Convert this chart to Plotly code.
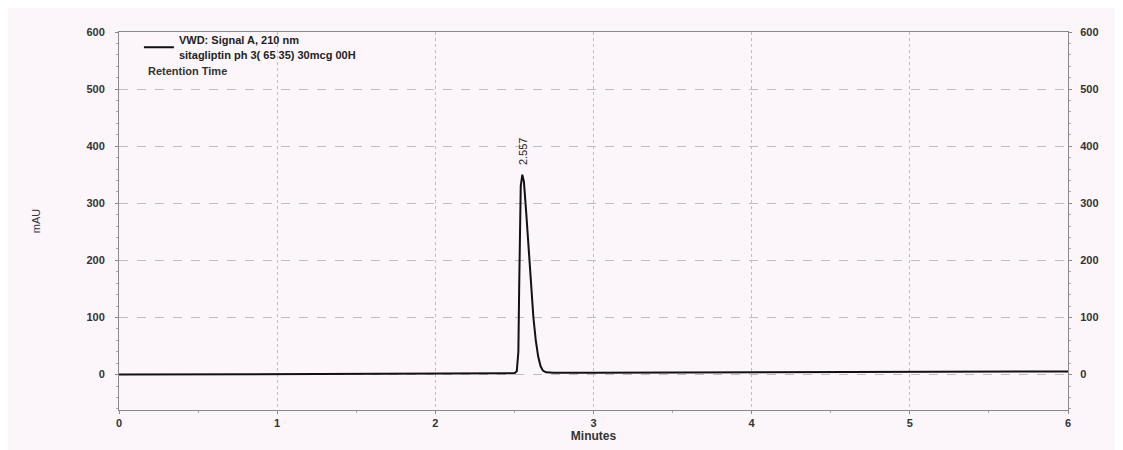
import plotly.graph_objects as go

# Retention time (minutes) and detector signal (mAU)
time_min = [0.0, 0.5, 1.0, 1.5, 2.0, 2.3, 2.45, 2.50, 2.515, 2.525, 2.53, 2.535, 2.54,
            2.55, 2.56, 2.575, 2.59, 2.605, 2.62, 2.635, 2.65, 2.665, 2.68, 2.70,
            2.75, 3.0, 3.5, 4.0, 4.5, 5.0, 5.5, 6.0]
signal_mau = [0.0, 0.4, 0.8, 1.2, 1.6, 1.9, 2.1, 2.3, 6, 40, 150, 260, 330,
              350, 338, 282, 216, 150, 100, 60, 32, 15, 7, 4,
              3.2, 3.3, 3.6, 4.0, 4.4, 4.8, 5.2, 5.6]

peak_time_label = "2.557"
peak_time = 2.55
peak_height = 350

x_ticks = [0, 1, 2, 3, 4, 5, 6]
y_ticks = [0, 100, 200, 300, 400, 500, 600]

series_lines = ["VWD: Signal A, 210 nm", "sitagliptin ph 3( 65 35) 30mcg 00H"]

FONT = "Liberation Sans, Arial, sans-serif"
GRID = "#c2bcc2"
BG = "#fcf6fb"

fig = go.Figure()
fig.add_trace(go.Scatter(x=time_min, y=signal_mau, mode="lines",
                         name="<br>".join("<b>" + s + "</b>" for s in series_lines),
                         line=dict(color="#111111", width=2), showlegend=True))
# invisible helper trace on the right-hand axis
fig.add_trace(go.Scatter(x=[time_min[0]], y=[signal_mau[0]], yaxis="y2", mode="lines",
                         line=dict(width=0), showlegend=False, hoverinfo="skip"))

fig.add_annotation(x=peak_time, y=peak_height, text=peak_time_label, textangle=-90,
                   showarrow=False, yanchor="bottom", yshift=8,
                   font=dict(family=FONT, size=11, color="#222222"))
fig.add_annotation(xref="paper", yref="paper", x=0.028, y=0.897, xanchor="left",
                   yanchor="middle", text="<b>Retention Time</b>", showarrow=False,
                   font=dict(family=FONT, size=11, color="#333333"))

axis_common = dict(
    showline=True, linecolor="#8a8a8a", linewidth=1,
    ticks="outside", ticklen=3, tickcolor="#8a8a8a",
    tickfont=dict(family=FONT, size=11, color="#333333"),
    zeroline=False,
)
ytext = ["<b>" + str(v) + "</b>" for v in y_ticks]
xtext = ["<b>" + str(v) + "</b>" for v in x_ticks]

fig.update_layout(
    width=1123, height=450,
    margin=dict(l=111, r=63, t=24, b=48),
    paper_bgcolor=BG, plot_bgcolor=BG,
    font=dict(family=FONT, size=11, color="#333333"),
    xaxis=dict(range=[0, 6], tickvals=x_ticks, ticktext=xtext,
               showgrid=True, gridcolor=GRID, griddash="dot", gridwidth=1,
               mirror=True,
               title=dict(text="<b>Minutes</b>", standoff=0,
                          font=dict(family=FONT, size=12, color="#333333")),
               minor=dict(dtick=0.5, ticklen=2, tickcolor="#aaaaaa", showgrid=False),
               **axis_common),
    yaxis=dict(range=[-62, 600], tickvals=y_ticks, ticktext=ytext,
               showgrid=True, gridcolor=GRID, griddash="dash", gridwidth=1,
               ticklabelstandoff=8,
               title=dict(text="mAU", standoff=43,
                          font=dict(family=FONT, size=11, color="#333333")),
               minor=dict(dtick=20, ticklen=2, tickcolor="#aaaaaa", showgrid=False),
               **axis_common),
    yaxis2=dict(range=[-62, 600], tickvals=y_ticks, ticktext=ytext,
                overlaying="y", side="right", showgrid=False, ticklabelstandoff=6,
                minor=dict(dtick=20, ticklen=2, tickcolor="#aaaaaa"),
                **axis_common),
    legend=dict(x=0.021, y=1.015, xanchor="left", yanchor="top", bgcolor="rgba(0,0,0,0)",
                font=dict(family=FONT, size=11, color="#222222"), itemwidth=30),
)

fig.write_html("out.html")
